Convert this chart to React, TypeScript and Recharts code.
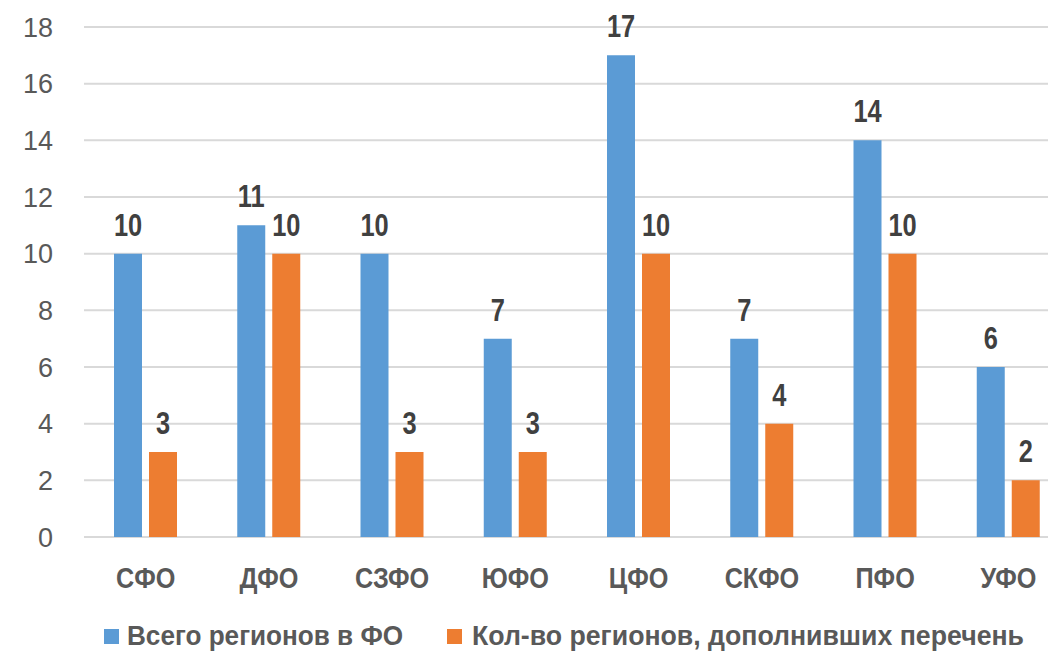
import { BarChart, Bar, XAxis, YAxis, CartesianGrid, Legend, LabelList } from "recharts";

const categories = ["СФО", "ДФО", "СЗФО", "ЮФО", "ЦФО", "СКФО", "ПФО", "УФО"];
const totalRegions = [10, 11, 10, 7, 17, 7, 14, 6];
const addedRegions = [3, 10, 3, 3, 10, 4, 10, 2];
const yTicks = [0, 2, 4, 6, 8, 10, 12, 14, 16, 18];

const seriesNames = ["Всего регионов в ФО", "Кол-во регионов, дополнивших перечень"];
const seriesColors = ["#5B9BD5", "#ED7D31"];

const data = categories.map((name, i) => ({
    name,
    total: totalRegions[i],
    added: addedRegions[i]
}));

// Arial Narrow is not installed: squeeze Liberation Sans Bold instead
const sans = "'Liberation Sans', Arial, sans-serif";

function CategoryTick(props: any) {
    const { x, y, payload } = props;
    return (
        <g transform={`translate(${x},${y + 51})`}>
            <text transform="scale(0.87,1)" textAnchor="middle" fontFamily={sans} fontWeight="bold" fontSize={29} fill="#595959">
                {payload.value}
            </text>
        </g>
    );
}

function ValueLabel(props: any) {
    const { x, y, width, value } = props;
    return (
        <g transform={`translate(${x + width / 2},${y - 18})`}>
            <text transform="scale(0.82,1)" textAnchor="middle" fontFamily={sans} fontWeight="bold" fontSize={31} fill="#404040">
                {value}
            </text>
        </g>
    );
}

function LegendBox() {
    return (
        <svg width={1048} height={26} style={{ display: "block", overflow: "visible" }}>
            <rect x={104} y={5} width={15} height={15} fill={seriesColors[0]} />
            <text x={127} y={21} textLength={276} lengthAdjust="spacingAndGlyphs" fontFamily={sans} fontWeight="bold" fontSize={27} fill="#595959">
                {seriesNames[0]}
            </text>
            <rect x={447} y={5} width={15} height={15} fill={seriesColors[1]} />
            <text x={472} y={21} textLength={552} lengthAdjust="spacingAndGlyphs" fontFamily={sans} fontWeight="bold" fontSize={27} fill="#595959">
                {seriesNames[1]}
            </text>
        </svg>
    );
}

export default function App() {
    return (
        <div style={{ position: "fixed", left: 0, top: 0, width: 1048, height: 653, overflow: "hidden", background: "#fff" }}>
            <BarChart width={1070} height={653} data={data} margin={{ top: 27, right: 0, left: 0, bottom: 0 }} barGap={7} barSize={28}>
                <CartesianGrid vertical={false} stroke="#d9d9d9" strokeWidth={2} />
                <XAxis dataKey="name" height={90} axisLine={false} tickLine={false} tickSize={0} tickMargin={0} tick={<CategoryTick />} />
                <YAxis width={84} domain={[0, 18]} ticks={yTicks} axisLine={false} tickLine={false} tickSize={0} tickMargin={31}
                    tick={{ fontFamily: sans, fontSize: 27, fill: "#595959" }} />
                <Legend verticalAlign="bottom" height={26} wrapperStyle={{ top: 624, bottom: "auto", left: 0, width: 1048, height: 26 }} content={() => <LegendBox />} />
                <Bar dataKey="total" name={seriesNames[0]} fill={seriesColors[0]} isAnimationActive={false}>
                    <LabelList dataKey="total" content={<ValueLabel />} />
                </Bar>
                <Bar dataKey="added" name={seriesNames[1]} fill={seriesColors[1]} isAnimationActive={false}>
                    <LabelList dataKey="added" content={<ValueLabel />} />
                </Bar>
            </BarChart>
        </div>
    );
}
